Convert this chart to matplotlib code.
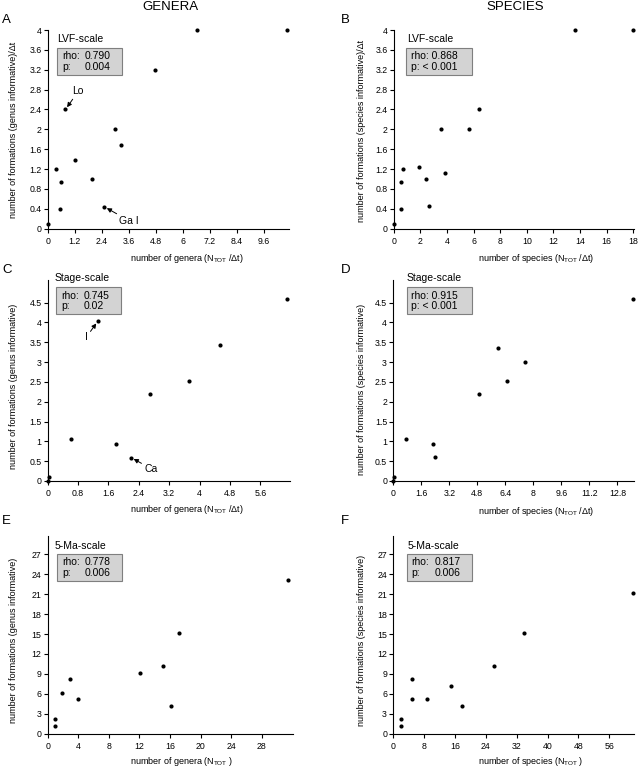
import matplotlib
matplotlib.use("Agg")
import matplotlib.pyplot as plt
from matplotlib.patches import Rectangle

plt.rcParams['font.family'] = ['Liberation Sans', 'DejaVu Sans']
plt.rcParams['mathtext.default'] = 'regular'

# ---------------- data ----------------
# Panel A: genera, LVF-scale
a_x = [10.65, 6.65, 4.79, 0.79, 2.98, 3.27, 1.2, 0.37, 0.59, 1.97, 0.55, 2.52, 0.0]
a_y = [4.0, 4.0, 3.2, 2.4, 2.01, 1.68, 1.39, 1.2, 0.94, 1.0, 0.4, 0.44, 0.09]
# Panel B: species, LVF-scale
b_x = [18.0, 13.6, 6.38, 3.55, 5.68, 1.93, 0.7, 0.53, 2.45, 3.87, 0.53, 2.68, 0.0]
b_y = [4.0, 4.0, 2.41, 2.01, 2.01, 1.25, 1.21, 0.94, 1.0, 1.13, 0.4, 0.45, 0.09]
# Panel C: genera, stage-scale
c_x = [6.29, 4.54, 3.73, 2.69, 1.32, 0.61, 1.80, 2.20, 0.03, 0.0]
c_y = [4.59, 3.43, 2.52, 2.19, 4.03, 1.06, 0.93, 0.59, 0.11, 0.0]
# Panel D: species, stage-scale
d_x = [13.71, 5.98, 7.50, 6.48, 4.88, 0.72, 2.25, 2.38, 0.06, 0.0]
d_y = [4.60, 3.36, 2.99, 2.52, 2.19, 1.06, 0.93, 0.60, 0.11, 0.0]
# Panel E: genera, 5-Ma-scale
e_x = [31.4, 17.2, 15.15, 12.1, 16.1, 1.92, 2.97, 3.93, 1.0, 1.0]
e_y = [23.2, 15.2, 10.2, 9.15, 4.2, 6.17, 8.28, 5.17, 2.2, 1.1]
# Panel F: species, 5-Ma-scale
f_x = [62.2, 34.0, 26.1, 14.9, 17.8, 8.8, 4.9, 4.9, 2.0, 2.0]
f_y = [21.2, 15.2, 10.2, 7.2, 4.2, 5.17, 8.28, 5.17, 2.2, 1.1]

a_xticks = [0, 1.2, 2.4, 3.6, 4.8, 6, 7.2, 8.4, 9.6]
a_yticks = [0, 0.4, 0.8, 1.2, 1.6, 2, 2.4, 2.8, 3.2, 3.6, 4]
b_xticks = [0, 2, 4, 6, 8, 10, 12, 14, 16, 18]
c_xticks = [0, 0.8, 1.6, 2.4, 3.2, 4, 4.8, 5.6]
c_yticks = [0, 0.5, 1, 1.5, 2, 2.5, 3, 3.5, 4, 4.5]
d_xticks = [0, 1.6, 3.2, 4.8, 6.4, 8, 9.6, 11.2, 12.8]
e_xticks = [0, 4, 8, 12, 16, 20, 24, 28]
e_yticks = [0, 3, 6, 9, 12, 15, 18, 21, 24, 27]
f_xticks = [0, 8, 16, 24, 32, 40, 48, 56]

scales = ["LVF-scale", "LVF-scale", "Stage-scale", "Stage-scale", "5-Ma-scale", "5-Ma-scale"]
rhos = ["0.790", "0.868", "0.745", "0.915", "0.778", "0.817"]
pvals = ["0.004", "< 0.001", "0.02", "< 0.001", "0.006", "0.006"]

# ---------------- layout ----------------
W, H = 638, 769
fig = plt.figure(figsize=(W / 100, H / 100), dpi=100)

def fx(x):
    return x / W

def fy(y):
    return 1 - y / H

def add_ax(left, right, top, bottom):
    ax = fig.add_axes([fx(left), fy(bottom), (right - left) / W, (bottom - top) / H])
    for s in ['top', 'right']:
        ax.spines[s].set_visible(False)
    for s in ['left', 'bottom']:
        ax.spines[s].set_linewidth(0.8)
    ax.tick_params(direction='out', length=3, width=0.8, labelsize=6.3, pad=1.5)
    ax.tick_params(axis='x', pad=3)
    ax.patch.set_alpha(0)
    return ax

def fmt(v):
    return ('%g' % v)

def setup(ax, xs, ys, xlim, ylim, xticks, yticks):
    ax.scatter(xs, ys, s=9, c='black', zorder=5, clip_on=False, linewidths=0)
    ax.set_xlim(*xlim)
    ax.set_ylim(*ylim)
    ax.set_xticks(xticks)
    ax.set_xticklabels([fmt(v) for v in xticks])
    ax.set_yticks(yticks)
    ax.set_yticklabels([fmt(v) for v in yticks])

axA = add_ax(47.7, 288.5, 30, 228.7)
setup(axA, a_x, a_y, (0, 10.7), (0, 4), a_xticks, a_yticks)
axB = add_ax(393.7, 634, 30, 228.7)
setup(axB, b_x, b_y, (0, 18.05), (0, 4), b_xticks, a_yticks)
axC = add_ax(47.7, 290, 280, 481)
setup(axC, c_x, c_y, (0, 6.38), (0, 5.07), c_xticks, c_yticks)
axD = add_ax(393.3, 634, 280, 481)
setup(axD, d_x, d_y, (0, 13.75), (0, 5.07), d_xticks, c_yticks)
axE = add_ax(47.7, 293, 535.7, 733.7)
setup(axE, e_x, e_y, (0, 32.1), (0, 29.8), e_xticks, e_yticks)
axF = add_ax(393.3, 634, 535.7, 733.7)
setup(axF, f_x, f_y, (0, 62.4), (0, 29.8), f_xticks, e_yticks)

# column titles and panel letters
fig.text(fx(170), fy(7), "GENERA", ha='center', va='center', fontsize=9.5)
fig.text(fx(515), fy(7), "SPECIES", ha='center', va='center', fontsize=9.5)
for letter, x, y in [("A", 2, 20), ("B", 341, 20), ("C", 2, 270), ("D", 341, 270), ("E", 2, 521), ("F", 341, 521)]:
    fig.text(fx(x), fy(y), letter, ha='left', va='center', fontsize=9.5)

# axis labels
xlab = [
    (130, 258, r"number of genera (N$_{TOT}$ /Δt)"),
    (478, 258, r"number of species (N$_{TOT}$ /Δt)"),
    (130, 510, r"number of genera (N$_{TOT}$ /Δt)"),
    (478, 511, r"number of species (N$_{TOT}$ /Δt)"),
    (130, 762, r"number of genera (N$_{TOT}$ )"),
    (478, 762, r"number of species (N$_{TOT}$ )"),
]
for x, y, t in xlab:
    fig.text(fx(x), fy(y), t, ha='left', va='center', fontsize=6.5)

ylab = [
    (14, 130, "number of formations (genus informative)/Δt"),
    (361, 131, "number of formations (species informative)/Δt"),
    (14, 386, "number of formations (genus informative)"),
    (361, 389, "number of formations (species informative)"),
    (14, 640, "number of formations (genus informative)"),
    (361, 640, "number of formations (species informative)"),
]
for x, y, t in ylab:
    fig.text(fx(x), fy(y), t, ha='center', va='center', rotation=90, fontsize=6.5)

# scale names and statistic boxes
# (scale_x, scale_y, box_left, box_top, box_right, box_bottom, text_x, value_x, line1_y, line2_y, aligned)
boxes = [
    (56.7, 39.3, 57.3, 48.3, 122.3, 75.3, 62.7, 84.3, 56.0, 66.7, True),
    (407.3, 39.3, 406.3, 48.3, 471.7, 75.3, 411.3, None, 56.0, 66.7, False),
    (55.0, 278.3, 56.0, 287.3, 121.3, 314.0, 61.7, 83.3, 295.7, 305.7, True),
    (406.3, 278.3, 407.0, 287.3, 472.0, 314.0, 411.3, None, 295.7, 305.7, False),
    (55.0, 545.7, 57.3, 554.3, 122.3, 581.0, 62.7, 84.3, 562.3, 572.7, True),
    (407.3, 545.7, 407.3, 554.3, 472.3, 581.0, 411.3, 434.7, 562.3, 572.7, True),
]
for i, (sx, sy, bl, bt, br, bb, tx, vx, l1, l2, aligned) in enumerate(boxes):
    fig.text(fx(sx), fy(sy), scales[i], ha='left', va='center', fontsize=7.5)
    fig.add_artist(Rectangle((fx(bl), fy(bb)), (br - bl) / W, (bb - bt) / H,
                             transform=fig.transFigure, facecolor='#d3d3d3',
                             edgecolor='#7f7f7f', linewidth=0.8))
    if aligned:
        fig.text(fx(tx), fy(l1), "rho:", ha='left', va='center', fontsize=7.5)
        fig.text(fx(vx), fy(l1), rhos[i], ha='left', va='center', fontsize=7.5)
        fig.text(fx(tx), fy(l2), "p:", ha='left', va='center', fontsize=7.5)
        fig.text(fx(vx), fy(l2), pvals[i], ha='left', va='center', fontsize=7.5)
    else:
        fig.text(fx(tx), fy(l1), "rho: " + rhos[i], ha='left', va='center', fontsize=7.5)
        fig.text(fx(tx), fy(l2), "p: " + pvals[i], ha='left', va='center', fontsize=7.5)

# point annotations
arrow = dict(arrowstyle='-|>,head_length=0.35,head_width=0.18', color='black', lw=0.7,
             shrinkA=0, shrinkB=2)
axA.annotate("Lo", xy=(a_x[3], a_y[3]), xytext=(7, 13), textcoords='offset pixels',
             fontsize=7.5, ha='left', va='bottom', arrowprops=arrow)
axA.annotate("Ga I", xy=(a_x[11], a_y[11]), xytext=(15, -14), textcoords='offset pixels',
             fontsize=7.5, ha='left', va='center', arrowprops=arrow)
axC.annotate("I", xy=(c_x[4], c_y[4]), xytext=(-13, -16), textcoords='offset pixels',
             fontsize=7.5, ha='left', va='center', arrowprops=arrow)
axC.annotate("Ca", xy=(c_x[7], c_y[7]), xytext=(13, -11), textcoords='offset pixels',
             fontsize=7.5, ha='left', va='center', arrowprops=arrow)

fig.savefig("out.png", dpi=100)
